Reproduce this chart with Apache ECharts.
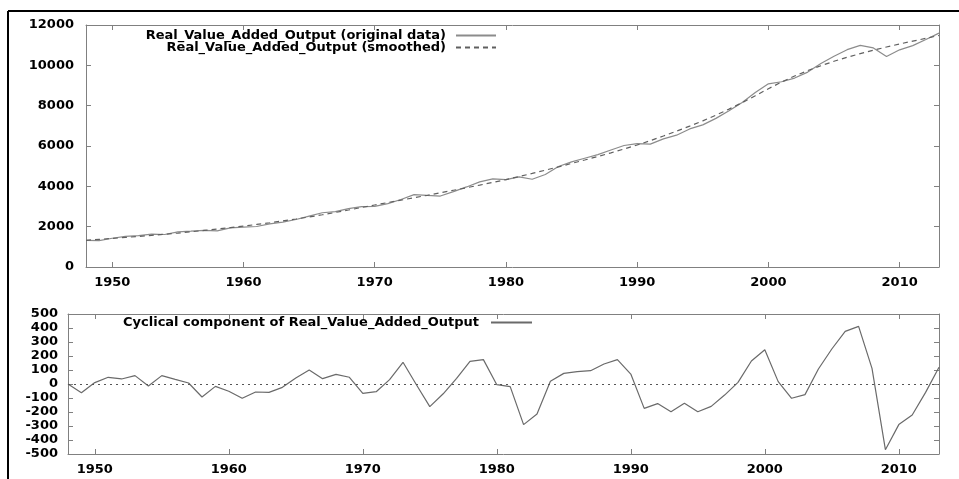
<!DOCTYPE html>
<html>
<head>
<meta charset="utf-8">
<script src="https://cdn.jsdelivr.net/npm/echarts@6/dist/echarts.min.js"></script>
<style>
html,body{margin:0;padding:0;background:#fff;}
#chart{width:959px;height:479px;}
</style>
</head>
<body>
<div id="chart"></div>
<script>
var years = [1948,1949,1950,1951,1952,1953,1954,1955,1956,1957,1958,1959,
  1960,1961,1962,1963,1964,1965,1966,1967,1968,1969,
  1970,1971,1972,1973,1974,1975,1976,1977,1978,1979,
  1980,1981,1982,1983,1984,1985,1986,1987,1988,1989,
  1990,1991,1992,1993,1994,1995,1996,1997,1998,1999,
  2000,2001,2002,2003,2004,2005,2006,2007,2008,2009,
  2010,2011,2012,2013];

var originalData = [1325,1308,1427,1514,1553,1630,1611,1742,1779,1820,1790,1938,
  1978,2008,2138,2225,2356,2523,2690,2743,2894,2998,
  3008,3140,3346,3590,3550,3518,3735,3970,4222,4369,
  4330,4466,4350,4586,4984,5211,5393,5575,5803,6024,
  6121,6091,6355,6537,6847,7047,7370,7751,8162,8654,
  9085,9187,9368,9664,10087,10450,10776,10992,10862,10441,
  10770,10979,11280,11599];

var smoothedData = [1325,1370,1417,1466,1517,1570,1625,1682,1746,1813,1883,1955,
  2030,2110,2195,2285,2380,2480,2590,2705,2825,2950,
  3075,3195,3315,3435,3555,3680,3805,3930,4060,4195,
  4335,4485,4640,4800,4965,5135,5305,5480,5660,5850,
  6050,6265,6495,6735,6985,7245,7530,7830,8150,8490,
  8840,9170,9470,9740,9980,10200,10400,10580,10750,10910,
  11060,11200,11340,11480];

var cycleData = [0,-62,10,48,36,60,-14,60,33,7,-93,-17,
  -52,-102,-57,-60,-24,43,100,38,69,48,
  -67,-55,31,155,-5,-162,-70,40,162,174,
  -5,-19,-290,-214,19,76,88,95,143,174,
  71,-174,-140,-198,-138,-198,-160,-79,12,164,
  245,17,-102,-76,107,250,376,412,112,-469,
  -290,-221,-60,119];

var xTicks = [1950,1960,1970,1980,1990,2000,2010];

var nameOrig = 'Real_Value_Added_Output (original data)';
var nameSmooth = 'Real_Value_Added_Output (smoothed)';
var nameCycle = 'Cyclical component of Real_Value_Added_Output';

function pairs(vals){ return years.map(function(y,i){ return [y, vals[i]]; }); }

var FONT = 'DejaVu Sans';
var labelStyle = {color:'#000', fontFamily:FONT, fontWeight:'bold', fontSize:13};
var axisLineStyle = {lineStyle:{color:'#808080', width:1}};
var tickStyle = {show:true, inside:true, length:5, lineStyle:{color:'#808080', width:1}};
function plain(v){ return String(v); }

function xAx(gi, pos, showLabel, margin){
  return {
    type:'value', gridIndex:gi, position:pos, min:1948, max:2013,
    axisLine:{show:true, onZero:false, lineStyle:axisLineStyle.lineStyle},
    axisTick:Object.assign({customValues:xTicks}, tickStyle),
    axisLabel:Object.assign({show:showLabel, customValues:xTicks, margin:margin,
      formatter:plain}, labelStyle),
    splitLine:{show:false}
  };
}
function yAx(gi, pos, showLabel, mn, mx, iv, margin){
  return {
    type:'value', gridIndex:gi, position:pos, min:mn, max:mx, interval:iv,
    axisLine:{show:true, onZero:false, lineStyle:axisLineStyle.lineStyle},
    axisTick:tickStyle,
    axisLabel:Object.assign({show:showLabel, margin:margin, formatter:plain}, labelStyle),
    splitLine:{show:false}
  };
}
function leg(name, right, top, w, gap){
  return {data:[name], right:right, top:top, padding:0, align:'right', itemWidth:w, itemHeight:12,
    itemStyle:{opacity:0},
    textStyle:Object.assign({padding:[0,gap,0,0]}, labelStyle)};
}

var chart = echarts.init(document.getElementById('chart'), null, {renderer:'canvas'});
chart.setOption({
  animation:false,
  backgroundColor:'#fff',
  grid:[
    {left:86, top:25, width:853, height:242},
    {left:68, top:314, width:871, height:140}
  ],
  xAxis:[
    xAx(0,'bottom',true,9),
    xAx(0,'top',false,0),
    xAx(1,'bottom',true,9),
    xAx(1,'top',false,0)
  ],
  yAxis:[
    yAx(0,'left',true,0,12000,2000,12),
    yAx(0,'right',false,0,12000,2000,0),
    yAx(1,'left',true,-500,500,100,10),
    yAx(1,'right',false,-500,500,100,0)
  ],
  legend:[
    leg(nameOrig, 462, 29, 40, 5),
    leg(nameSmooth, 462, 41, 40, 5),
    leg(nameCycle, 426, 316, 41, 7)
  ],
  series:[
    {name:nameOrig, type:'line', xAxisIndex:0, yAxisIndex:0, data:pairs(originalData),
     symbol:'none', lineStyle:{color:'#8c8c8c', width:1.2}, itemStyle:{color:'#8c8c8c'}},
    {name:nameSmooth, type:'line', xAxisIndex:0, yAxisIndex:0, data:pairs(smoothedData),
     symbol:'none', lineStyle:{color:'#606060', width:1.2, type:[5,4]}, itemStyle:{color:'#606060'}},
    {name:nameCycle, type:'line', xAxisIndex:2, yAxisIndex:2, data:pairs(cycleData),
     symbol:'none', lineStyle:{color:'#6a6a6a', width:1.2}, itemStyle:{color:'#6a6a6a'},
     markLine:{silent:true, symbol:'none', label:{show:false},
       lineStyle:{color:'#555', width:1, type:[2,4]}, data:[{yAxis:0}]}}
  ],
  graphic:[
    {type:'line', shape:{x1:8, y1:11, x2:959, y2:11}, style:{stroke:'#000', lineWidth:2}},
    {type:'line', shape:{x1:8, y1:11, x2:8, y2:479}, style:{stroke:'#000', lineWidth:2}}
  ]
});
</script>
</body>
</html>
